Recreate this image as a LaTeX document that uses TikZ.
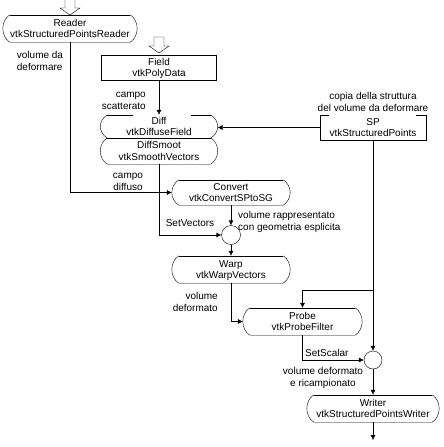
\documentclass[tikz,border=0pt]{standalone}
\usepackage{fontspec}
\setmainfont{Liberation Sans}
\usetikzlibrary{arrows.meta, positioning}

\tikzset{
  proc/.style={align=center, inner sep=0pt, text depth=0pt,
    execute at begin node={\rule{0pt}{10pt}}},
  junction/.style={circle, draw, inner sep=0pt},
  lab/.style={align=center, inner sep=0pt},
  flow/.style={-{Latex[length=5pt,width=5pt]}},
}

% sides and bottom of a process box with bulging ends
\newcommand{\procbody}[1]{%
  \draw ([xshift=-7pt]#1.north east) .. controls +(9.3,6) and +(9.3,-6) .. ([xshift=-7pt]#1.south east)
    -- ([xshift=7pt]#1.south west) .. controls +(-9.3,-6) and +(-9.3,6) .. ([xshift=7pt]#1.north west);}
\newcommand{\procbox}[1]{%
  \procbody{#1}
  \draw ([xshift=7pt]#1.north west) -- ([xshift=-7pt]#1.north east);}

\begin{document}
\begin{tikzpicture}[x=1pt, y=-1pt, font=\fontsize{10}{11.5}\selectfont]
  \useasboundingbox (0,0) rectangle (444,447);

  % blocks
  \node[proc, minimum width=134, minimum height=27] (reader) at (70,28.5)
    {Reader\\vtkStructuredPointsReader};
  \node[proc, draw, minimum width=115, minimum height=25] (field) at (159,67.5)
    {Field\\vtkPolyData};
  \node[proc, minimum width=117, minimum height=23] (diff) at (159,126.5)
    {Diff\\vtkDiffuseField};
  \node[proc, minimum width=117, minimum height=26] (smooth) at (159,151)
    {DiffSmoot\\vtkSmoothVectors};
  \node[proc, minimum width=106, minimum height=25] (sp) at (373,127.5)
    {SP\\vtkStructuredPoints};
  \node[proc, minimum width=118, minimum height=25] (convert) at (231,192.5)
    {Convert\\vtkConvertSPtoSG};
  \node[junction, minimum size=19] (vec) at (231,235) {};
  \node[proc, minimum width=118, minimum height=27] (warp) at (231,269.5)
    {Warp\\vtkWarpVectors};
  \node[proc, minimum width=119, minimum height=27] (probe) at (302.5,321.5)
    {Probe\\vtkProbeFilter};
  \node[junction, minimum size=18] (sca) at (373,360) {};
  \node[proc, minimum width=132, minimum height=27] (writer) at (373,408.5)
    {Writer\\vtkStructuredPointsWriter};
  \coordinate (out) at (373,440);

  \procbox{reader}
  \procbox{smooth}
  \procbox{convert}
  \procbox{warp}
  \procbox{probe}
  \procbox{writer}
  \procbody{diff}
  \draw ([xshift=7pt]diff.north west) -- ++(26,0);
  \draw ([xshift=-7pt]diff.north east) -- ++(-20,0);
  \draw (sp.north west) -- ++(9,0);
  \draw (sp.north east) -- ++(-10,0);
  \draw (sp.north west) -- (sp.south west) -- (sp.south east) -- (sp.north east);

  % hollow input arrows
  \foreach \ax/\ay in {70/-1, 159/37}
    \draw (\ax-5,\ay) -- (\ax+5,\ay) -- (\ax+5,\ay+9) -- (\ax+10,\ay+9)
      -- (\ax,\ay+16) -- (\ax-10,\ay+9) -- (\ax-5,\ay+9) -- cycle;

  % labels
  \node[lab, align=left] (lreader) at (40,61) {volume da\\deformare};
  \node[lab, align=right, anchor=east] (lfield) at (146,101) {campo\\scatterato};
  \node[lab] (lsp) at (373,102) {copia della struttura\\del volume da deformare};
  \node[lab] (ldiff) at (128,182) {campo\\diffuso};
  \node[lab] (lsetv) at (190,223) {SetVectors};
  \node[lab, align=left, anchor=west] (lconv) at (238,222)
    {volume rappresentato\\con geometria esplicita};
  \node[lab, align=right, anchor=east] (lwarp) at (218,302) {volume\\deformato};
  \node[lab, anchor=west] (lsets) at (305,353) {SetScalar};
  \node[lab] (lsca) at (323,378) {volume deformato\\e ricampionato};

  % connectors
  \draw[flow] (reader.south) |- (convert.west);
  \draw[flow] (field.south) -- (diff.north);
  \draw[flow] (sp.west) -- (sp.west -| diff.east);
  \draw[flow] (smooth.south) |- (vec.west);
  \draw[flow] (convert.south) -- (vec.north);
  \draw[flow] (vec.south) -- (warp.north);
  \draw[flow] (warp.south) |- (probe.west);
  \draw[flow] (sp.south) -- (sca.north);
  \coordinate (branch) at (373,290);
  \draw[flow] (branch) -| (probe.north);
  \draw[flow] (probe.south) |- (sca.west);
  \draw[flow] (sca.south) -- (writer.north);
  \draw[flow] (writer.south) -- (out);
\end{tikzpicture}
\end{document}
